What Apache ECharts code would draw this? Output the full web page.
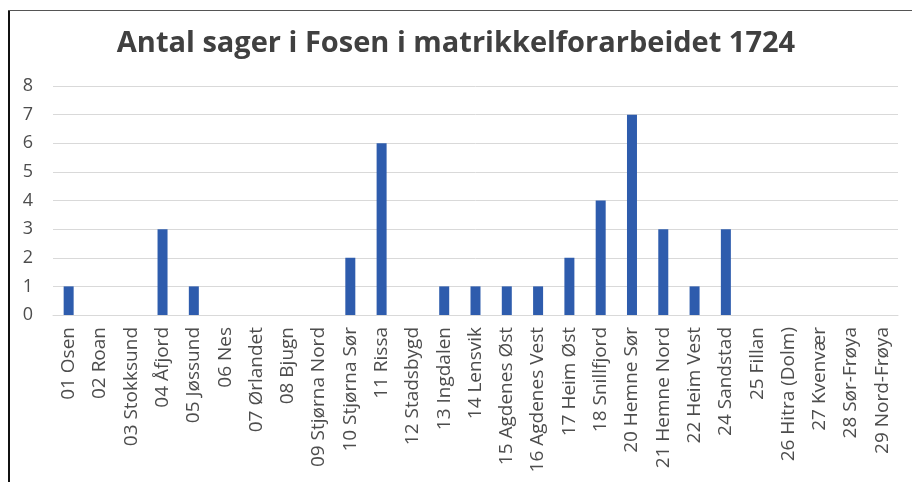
<!DOCTYPE html>
<html>
<head>
<meta charset="utf-8">
<script src="https://cdn.jsdelivr.net/npm/echarts@6/dist/echarts.min.js"></script>
<style>
html,body{margin:0;padding:0;background:#fff;}
#chart{width:912px;height:482px;}
</style>
</head>
<body>
<div id="chart"></div>
<script>
const categories = ["01 Osen","02 Roan","03 Stokksund","04 Åfjord","05 Jøssund","06 Nes","07 Ørlandet","08 Bjugn","09 Stjørna Nord","10 Stjørna Sør","11 Rissa","12 Stadsbygd","13 Ingdalen","14 Lensvik","15 Agdenes Øst","16 Agdenes Vest","17 Heim Øst","18 Snillfjord","20 Hemne Sør","21 Hemne Nord","22 Heim Vest","24 Sandstad","25 Fillan","26 Hitra (Dolm)","27 Kvenvær","28 Sør-Frøya","29 Nord-Frøya"];
const values = [1,0,0,3,1,0,0,0,0,2,6,0,1,1,1,1,2,4,7,3,1,3,0,0,0,0,0];
const titleText = "Antal sager i Fosen i matrikkelforarbeidet 1724";

const chart = echarts.init(document.getElementById('chart'));
chart.setOption({
  backgroundColor: '#fff',
  animation: false,
  title: {
    text: titleText,
    left: 'center',
    top: 24,
    textStyle: {fontFamily: 'Open Sans', fontWeight: 'bold', fontSize: 29, color: '#404040'}
  },
  grid: {left: 53, right: 14, top: 86, bottom: 167},
  xAxis: {
    type: 'category',
    data: categories,
    axisTick: {show: false},
    axisLine: {lineStyle: {color: '#d9d9d9'}},
    axisLabel: {rotate: 90, interval: 0, margin: 12, fontFamily: 'Open Sans', fontSize: 19, color: '#4d4d4d'}
  },
  yAxis: {
    type: 'value',
    min: 0, max: 8, interval: 1,
    axisLine: {show: false},
    axisTick: {show: false},
    splitLine: {lineStyle: {color: '#d9d9d9', width: 1}},
    axisLabel: {margin: 20, fontFamily: 'Open Sans', fontSize: 18, color: '#4d4d4d'}
  },
  series: [{
    type: 'bar',
    data: values,
    barWidth: 10,
    itemStyle: {color: '#2e5cad'}
  }],
  graphic: [
    {type: 'line', shape: {x1: 9, y1: 10, x2: 9, y2: 482}, style: {stroke: '#111', lineWidth: 2}},
    {type: 'line', shape: {x1: 8, y1: 10.5, x2: 912, y2: 10.5}, style: {stroke: '#555', lineWidth: 1}}
  ]
});
</script>
</body>
</html>
